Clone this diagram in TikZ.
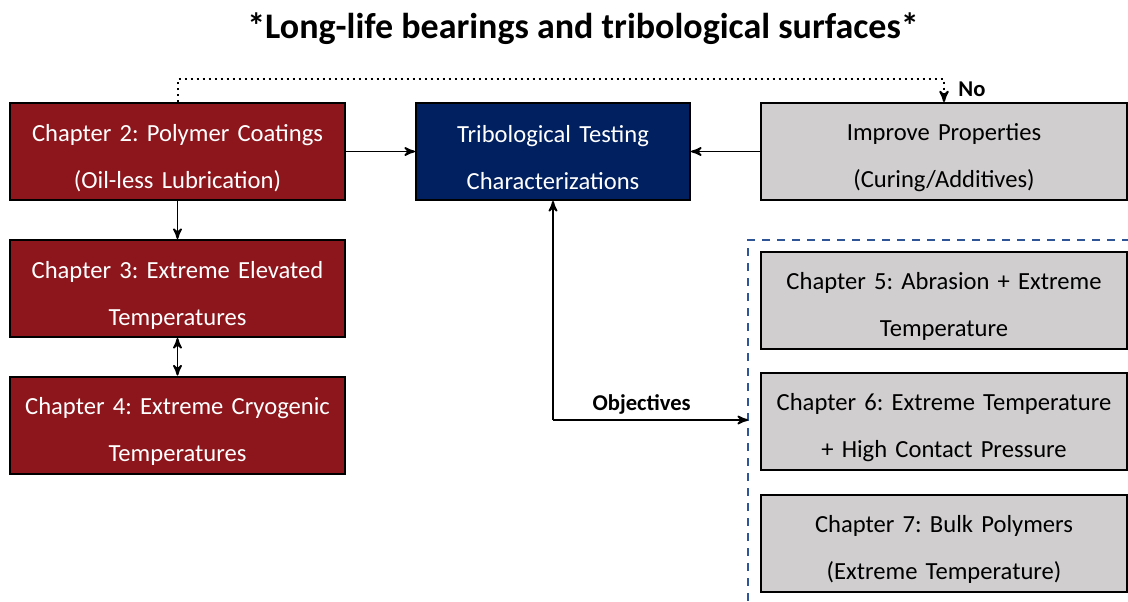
\documentclass[tikz,border=0pt]{standalone}
\usepackage{fontspec}
\setmainfont{Carlito}
\usetikzlibrary{arrows, positioning}
\frenchspacing

\definecolor{chapred}{RGB}{141,22,28}
\definecolor{testblue}{RGB}{0,32,96}
\definecolor{propgrey}{RGB}{208,206,206}
\definecolor{objblue}{RGB}{47,85,151}

\tikzset{
  chapbox/.style={draw=black, line width=1pt, minimum height=48.5pt, align=center,
    inner sep=0pt, font=\fontsize{12.3}{23.5}\selectfont,
    execute at begin node={\rule{0pt}{15pt}}},
  redbox/.style={chapbox, fill=chapred, text=white, minimum width=167.5pt, text width=165pt},
  bluebox/.style={chapbox, fill=testblue, text=white, minimum width=137pt, text width=135pt},
  greybox/.style={chapbox, fill=propgrey, text=black, minimum width=183pt, text width=181pt},
  lbl/.style={font=\fontsize{11.3}{13}\selectfont\bfseries}
}

\begin{document}
\begin{tikzpicture}[>=stealth', x=0.5pt, y=-0.5pt, line width=0.9pt]
\useasboundingbox (0,0) rectangle (1128,601);

% title
  \node (title) at (583,29) {\fontsize{18}{20}\selectfont\bfseries *Long-life bearings and tribological surfaces*};

% define the boxes
  \node[redbox]   (ch2) at (177.5,151.5) {Chapter 2: Polymer Coatings\\(Oil-less Lubrication)};
  \node[bluebox]  (tt)  at (553,151.5)   {Tribological Testing\\Characterizations};
  \node[greybox]  (imp) at (944,151.5)   {Improve Properties\\(Curing/Additives)};
  \node[redbox]   (ch3) at (177.5,288.5) {Chapter 3: Extreme Elevated\\Temperatures};
  \node[redbox]   (ch4) at (177.5,425)   {Chapter 4: Extreme Cryogenic\\Temperatures};
  \node[greybox]  (ch5) at (944,300)     {Chapter 5: Abrasion + Extreme\\Temperature};
  \node[greybox]  (ch6) at (944,421.5)   {Chapter 6: Extreme Temperature\\+ High Contact Pressure};
  \node[greybox]  (ch7) at (944,543)     {Chapter 7: Bulk Polymers\\(Extreme Temperature)};
  \node[lbl]      (no)  at (972,89)      {No};

% objectives frame
  \draw[objblue, line width=1.4pt, dash pattern=on 4pt off 3.5pt] (1130,240) -- (748,240) -- (748,603);
  \coordinate (bend)  at (553,420);
  \coordinate (frame) at (748,420);

% define the links
  \draw[->] (ch2) -- (tt);
  \draw[->] (imp) -- (tt);
  \draw[->] (ch2) -- (ch3);
  \draw[<->] (ch3) -- (ch4);
  \draw[->, dotted, line width=1pt] (ch2.north) -- ++(0,-23) -| (imp.north);
  \draw[->] (bend) -- (tt);
  \draw[->] (bend) -- (frame) node[lbl, pos=0.455, above=-1pt] {Objectives};

\end{tikzpicture}
\end{document}
